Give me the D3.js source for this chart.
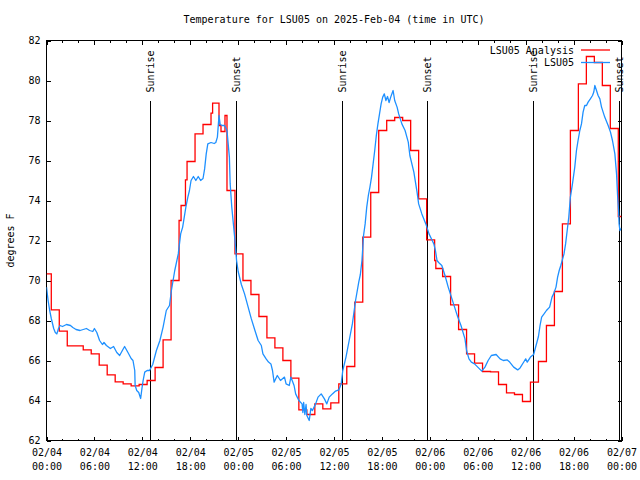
<!DOCTYPE html>
<html><head><meta charset="utf-8">
<script src="https://cdn.jsdelivr.net/npm/d3@7"></script>
<style>
body{margin:0;background:#fff}
svg{display:block}
text{font-family:"DejaVu Sans Mono",monospace;font-size:10px;fill:#000}
</style></head><body>
<svg id="chart" width="640" height="480"></svg>
<script>
// ---------------- data ----------------
const chartTitle = "Temperature for LSU05 on 2025-Feb-04 (time in UTC)";
const yLabel = "degrees F";
const startTime = "2025-02-04T00:00:00Z";
const endTime = "2025-02-07T00:00:00Z";
const yTicks = [62, 64, 66, 68, 70, 72, 74, 76, 78, 80, 82];
const seriesNames = ["LSU05 Analysis", "LSU05"];

// Analysis (hours since start, value held until next change)
const analysisHours = [0, 0.6, 1.6, 2.6, 3.6, 4.6, 5.6, 6.6, 7.6, 8.6, 9.6, 10.6, 11.6, 12.6, 13.6, 14.6,
  15.6, 16.6, 16.85, 17.4, 17.6, 18.6, 19.6, 20.6, 20.8, 21.6, 21.85, 22.35, 22.6, 23.6,
  24.6, 25.6, 26.6, 27.6, 28.6, 29.6, 30.6, 31.6, 32.6, 33.6, 34.6, 35.6, 36.6, 37.6, 38.6,
  39.6, 40.6, 41.6, 42.6, 43.6, 44.6, 45.6, 46.6, 47.6, 48.6, 48.75, 49.6, 50.6, 51.6, 52.6,
  53.6, 54.6, 55.6, 56.6, 57.6, 58.6, 59.6, 60.6, 61.6, 62.6, 63.6, 64.6, 65.6, 66.6, 67.6,
  68.6, 69.6, 70.6, 71.6];
const analysisTemps = [70.33, 68.53, 67.47, 66.73, 66.73, 66.53, 66.33, 65.77, 65.28, 64.93, 64.83, 64.73, 64.8, 65.0, 65.65, 67.03,
  70.0, 73.0, 73.75, 75.03, 75.95, 77.33, 77.8, 78.37, 78.87, 77.75, 77.45, 78.25, 74.5, 71.33,
  70.0, 69.3, 68.2, 67.13, 66.63, 66.0, 65.12, 63.53, 63.3, 63.83, 63.58, 63.88, 64.83, 65.7, 68.92,
  72.17, 74.4, 77.5, 78.0, 78.15, 78.0, 76.5, 74.08, 72.03, 71.0, 70.6, 70.2, 68.78, 67.55, 66.33,
  65.87, 65.45, 65.43, 64.8, 64.38, 64.3, 63.95, 64.92, 65.95, 67.75, 69.45, 72.83, 77.5, 79.83, 81.2,
  80.9, 79.75, 77.6, 73.2];

// Observations (hours since start, value)
const obsHours = [0, 0.2, 0.4, 0.6, 0.9, 1.1, 1.3, 1.5, 1.7, 2.0, 2.5, 3.0, 3.3, 3.7, 4.2, 4.6, 5.0, 5.4, 5.8, 6.0,
  6.3, 6.65, 7.0, 7.2, 7.5, 8.0, 8.4, 8.8, 9.16, 9.5, 9.78, 10.2, 10.6, 10.83, 11.05, 11.1, 11.3, 11.55, 11.79, 11.95,
  12.1, 12.3, 12.6, 12.9, 13.3, 13.76, 14.2, 14.6, 15.0, 15.4, 15.64, 16.06, 16.5, 16.8, 17.05, 17.45, 17.7, 17.9, 18.1, 18.4,
  18.7, 19.0, 19.3, 19.6, 19.8, 20.0, 20.2, 20.6, 21.0, 21.2, 21.4, 21.6, 21.75, 22.0, 22.3, 22.6, 22.9, 23.0, 23.2, 23.4,
  23.6, 23.8, 24.0, 24.4, 24.8, 25.25, 25.65, 26.1, 26.5, 26.9, 27.1, 27.5, 27.8, 28.1, 28.3, 28.5, 28.9, 29.3, 29.8, 30.0,
  30.4, 30.6, 31.0, 31.2, 31.6, 32.0, 32.1, 32.2, 32.35, 32.5, 32.6, 32.9, 33.1, 33.3, 33.7, 34.0, 34.4, 34.8, 35.1, 35.4,
  35.8, 36.2, 36.6, 36.9, 37.1, 37.5, 37.9, 38.3, 38.7, 39.1, 39.3, 39.5, 39.7, 39.9, 40.1, 40.3, 40.5, 40.7, 40.9, 41.1,
  41.3, 41.5, 41.7, 41.9, 42.1, 42.3, 42.5, 42.7, 42.9, 43.1, 43.4, 43.6, 43.9, 44.1, 44.5, 44.9, 45.3, 45.5, 46.0, 46.2,
  46.4, 46.6, 47.0, 47.5, 47.9, 48.3, 48.5, 48.7, 48.9, 49.1, 49.5, 49.9, 50.3, 50.7, 51.1, 51.5, 51.9, 52.4, 52.6, 52.9,
  53.2, 53.6, 54.0, 54.5, 54.9, 55.3, 55.7, 56.3, 56.8, 57.2, 57.7, 58.0, 58.5, 59.0, 59.3, 59.8, 60.0, 60.2, 60.6, 61.0,
  61.2, 61.4, 61.6, 61.8, 62.0, 62.3, 62.6, 63.0, 63.3, 63.5, 63.8, 64.0, 64.2, 64.4, 64.8, 65.0, 65.2, 65.4, 65.6, 65.86,
  66.15, 66.36, 66.56, 66.78, 66.99, 67.19, 67.4, 67.62, 67.82, 68.1, 68.37, 68.53, 68.66, 68.87, 69.07, 69.29, 69.5, 69.9, 70.33, 70.62,
  70.87, 71.17, 71.38, 71.5, 71.63, 71.7, 71.8, 71.95];
const obsTemps = [69.67, 69.0, 68.5, 68.1, 67.6, 67.4, 67.33, 67.6, 67.75, 67.7, 67.8, 67.75, 67.65, 67.55, 67.5, 67.55, 67.6, 67.5, 67.45, 67.6,
  67.4, 67.0, 66.8, 66.9, 66.75, 66.6, 66.7, 66.4, 66.25, 66.5, 66.7, 66.4, 66.1, 66.0, 65.5, 64.75, 64.5, 64.4, 64.1, 64.6,
  65.0, 65.42, 65.5, 65.5, 65.8, 66.5, 67.0, 67.67, 68.5, 68.75, 69.5, 70.5, 71.33, 72.33, 72.67, 73.67, 74.17, 74.5, 75.0, 75.2,
  75.0, 75.2, 75.0, 75.1, 75.58, 76.33, 76.83, 76.9, 76.85, 76.9, 77.17, 78.25, 77.8, 77.75, 77.75, 77.5, 76.17, 74.83, 73.67, 72.83,
  72.0, 71.0, 70.45, 69.8, 69.33, 68.67, 68.08, 67.5, 67.0, 66.75, 66.33, 66.08, 65.92, 65.83, 65.5, 64.92, 65.25, 65.0, 65.17, 64.83,
  64.75, 65.17, 64.75, 64.33, 64.0, 63.83, 63.4, 63.9, 63.3, 63.8, 63.25, 63.0, 63.6, 63.5, 63.83, 64.17, 64.33, 64.08, 63.83, 64.17,
  64.33, 64.47, 64.53, 64.83, 65.5, 66.17, 67.0, 67.83, 69.0, 69.92, 70.3, 71.0, 72.25, 72.83, 73.67, 74.25, 74.67, 75.17, 75.83, 76.5,
  77.25, 77.83, 78.33, 78.83, 79.17, 79.33, 79.0, 79.2, 78.9, 79.17, 79.5, 79.0, 78.67, 78.33, 77.83, 77.5, 76.92, 76.25, 75.42, 74.92,
  74.42, 73.83, 73.33, 72.83, 72.33, 72.0, 71.83, 71.5, 71.0, 70.9, 70.75, 70.25, 69.67, 69.17, 68.67, 68.17, 67.75, 67.08, 66.5, 66.08,
  65.92, 65.83, 65.67, 65.47, 65.67, 66.0, 66.25, 66.3, 66.08, 66.0, 66.03, 65.92, 65.67, 65.53, 65.63, 65.95, 66.08, 65.92, 66.17, 66.3,
  66.6, 66.9, 67.2, 67.75, 68.17, 68.33, 68.5, 68.67, 69.17, 69.33, 69.67, 70.17, 70.5, 70.75, 71.33, 71.83, 72.5, 73.17, 74.17, 74.83,
  75.67, 76.5, 77.0, 77.5, 77.83, 78.42, 78.75, 78.75, 78.92, 79.08, 79.25, 79.42, 79.75, 79.5, 79.25, 79.08, 78.67, 78.17, 77.75, 77.42,
  77.0, 76.33, 75.33, 74.33, 73.5, 72.83, 72.5, 72.6];

// Sun events (hours since start)
const sunHours = [12.96, 23.7, 36.95, 47.7, 60.95, 71.72];
const sunLabels = ["Sunrise", "Sunset", "Sunrise", "Sunset", "Sunrise", "Sunset"];
const sunLineTop = 79;
const sunLabelAt = 79.4;

// ---------------- drawing ----------------
const svg = d3.select("#chart");
const L = 46.5, R = 621.5, T = 40.5, B = 440.5;
const t0 = new Date(startTime), t1 = new Date(endTime);
const toDate = h => new Date(t0.getTime() + h * 3600 * 1000);

const x = d3.scaleUtc().domain([t0, t1]).range([L, R]);
const y = d3.scaleLinear().domain([62, 82]).range([B, T]);

svg.append("rect").attr("width", 640).attr("height", 480).attr("fill", "#fff");

// title
svg.append("text").attr("x", (L + R) / 2).attr("y", 23).attr("text-anchor", "middle").text(chartTitle);
// y label
svg.append("text").attr("transform", `translate(14,${(T + B) / 2}) rotate(-90)`)
  .attr("text-anchor", "middle").text(yLabel);

const majors = d3.utcHour.every(6).range(t0, new Date(t1.getTime() + 1));
const minors = d3.utcHour.every(2).range(t0, new Date(t1.getTime() + 1)).filter(d => d.getUTCHours() % 6 !== 0);

const fmtD = d3.utcFormat("%m/%d"), fmtH = d3.utcFormat("%H:%M");

// bottom axis major ticks + labels
const gB = svg.append("g").attr("transform", `translate(0,${B})`)
  .call(d3.axisBottom(x).tickValues(majors).tickSizeInner(-4).tickSizeOuter(0).tickPadding(0).tickFormat(""));
gB.select(".domain").remove();
gB.selectAll(".tick text").remove();
gB.selectAll(".tick").append("text").attr("fill", "#000").attr("text-anchor", "middle")
  .each(function(d) {
    const t = d3.select(this);
    t.append("tspan").attr("x", 0).attr("y", 15.5).text(fmtD(d));
    t.append("tspan").attr("x", 0).attr("y", 29.5).text(fmtH(d));
  });
// bottom minor
svg.append("g").attr("transform", `translate(0,${B})`)
  .call(d3.axisBottom(x).tickValues(minors).tickSizeInner(-2).tickSizeOuter(0).tickFormat(""))
  .select(".domain").remove();
// top mirrored
const gT = svg.append("g").attr("transform", `translate(0,${T})`)
  .call(d3.axisTop(x).tickValues(majors).tickSizeInner(-4).tickSizeOuter(0).tickFormat(""));
gT.select(".domain").remove();
svg.append("g").attr("transform", `translate(0,${T})`)
  .call(d3.axisTop(x).tickValues(minors).tickSizeInner(-2).tickSizeOuter(0).tickFormat(""))
  .select(".domain").remove();

// left axis
const gL = svg.append("g").attr("transform", `translate(${L},0)`)
  .call(d3.axisLeft(y).tickValues(yTicks).tickSizeInner(-4).tickSizeOuter(0).tickPadding(6).tickFormat(d3.format("d")));
gL.select(".domain").remove();
gL.selectAll(".tick text").attr("fill", "#000");
// right mirrored
const gR = svg.append("g").attr("transform", `translate(${R},0)`)
  .call(d3.axisRight(y).tickValues(yTicks).tickSizeInner(-4).tickSizeOuter(0).tickFormat(""));
gR.select(".domain").remove();

svg.selectAll(".tick line").attr("stroke", "#000").attr("shape-rendering", "crispEdges");
svg.selectAll("g").attr("font-family", null).attr("font-size", null);

// frame
svg.append("rect").attr("x", L).attr("y", T).attr("width", R - L).attr("height", B - T)
  .attr("fill", "none").attr("stroke", "#000").attr("shape-rendering", "crispEdges");

// sunrise / sunset
const sun = sunHours.map((h, i) => ({ d: toDate(h), label: sunLabels[i] }));
svg.append("g").selectAll("line").data(sun).join("line")
  .attr("x1", d => Math.round(x(d.d)) + 0.5).attr("x2", d => Math.round(x(d.d)) + 0.5)
  .attr("y1", y(sunLineTop)).attr("y2", B)
  .attr("stroke", "#000").attr("shape-rendering", "crispEdges");
svg.append("g").selectAll("text").data(sun).join("text")
  .attr("transform", d => `translate(${x(d.d) + 4},${y(sunLabelAt)}) rotate(-90)`)
  .attr("text-anchor", "start").text(d => d.label);

// data lines
svg.append("clipPath").attr("id", "clip").append("rect")
  .attr("x", L).attr("y", T).attr("width", R - L).attr("height", B - T);

const analysis = analysisHours.map((h, i) => ({ d: toDate(h), v: analysisTemps[i] }));
analysis.push({ d: t1, v: analysisTemps[analysisTemps.length - 1] });
const obs = obsHours.map((h, i) => ({ d: toDate(h), v: obsTemps[i] }));

const lineStep = d3.line().x(d => x(d.d)).y(d => y(d.v)).curve(d3.curveStepAfter);
const lineLin = d3.line().x(d => x(d.d)).y(d => y(d.v));

const gData = svg.append("g").attr("clip-path", "url(#clip)");
gData.append("path").datum(analysis).attr("d", lineStep)
  .attr("fill", "none").attr("stroke", "#ff0000").attr("stroke-width", 1.3);
gData.append("path").datum(obs).attr("d", lineLin)
  .attr("fill", "none").attr("stroke", "#1e90ff").attr("stroke-width", 1.3).attr("stroke-linejoin", "round");

// legend
const legColors = ["#ff0000", "#1e90ff"];
const leg = svg.append("g");
seriesNames.forEach((n, i) => {
  const yy = 50 + i * 12.5;
  leg.append("text").attr("x", 574).attr("y", yy + 3.5).attr("text-anchor", "end").text(n);
  leg.append("line").attr("x1", 581).attr("x2", 610).attr("y1", yy).attr("y2", yy)
    .attr("stroke", legColors[i]).attr("stroke-width", 1.3);
});
</script>
</body></html>
